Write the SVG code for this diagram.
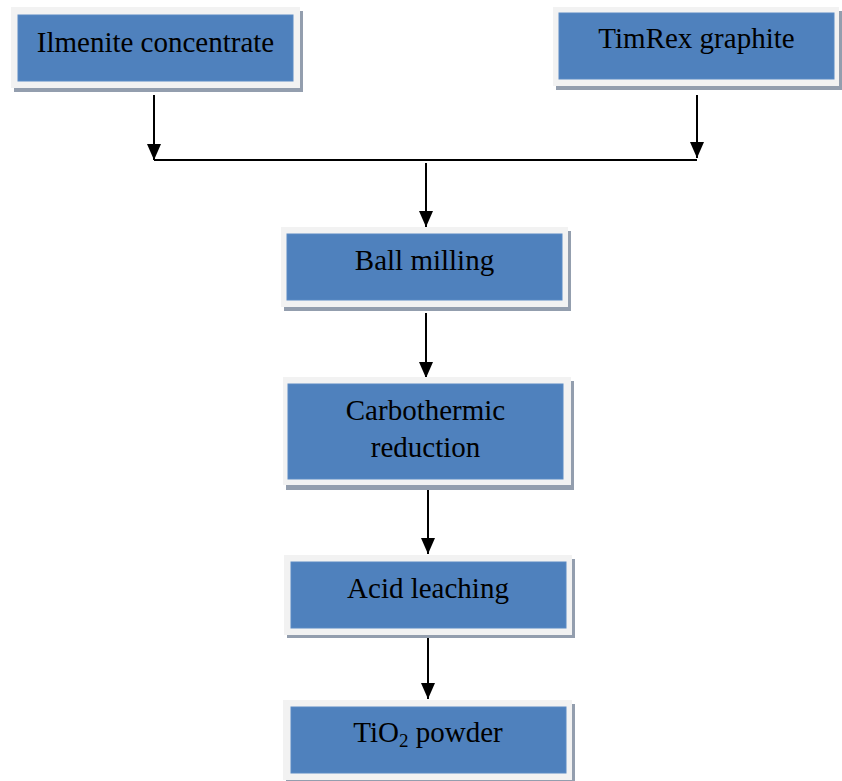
<svg xmlns="http://www.w3.org/2000/svg" width="842" height="781" viewBox="0 0 842 781">
<defs>
<style>
.sh{fill:#939eae}
.fr{fill:#f2f2f2}
.bl{fill:#4f81bd;stroke:#5a8ac4;stroke-width:1}
.t{font-family:"Liberation Serif","Times New Roman",serif;font-size:29px;fill:#000;text-anchor:middle}
.ln{stroke:#000;stroke-width:2;fill:none}
</style>
<marker id="ah" markerUnits="userSpaceOnUse" markerWidth="17" markerHeight="17" viewBox="0 0 17 17" refX="16" refY="8.5" orient="auto">
<path d="M0,1.5 L16,8.5 L0,15.5 Z" fill="#000"/>
</marker>
</defs>
<rect width="842" height="781" fill="#fff"/>
<g id="connectors">
<line class="ln" x1="154" y1="95" x2="154" y2="160" marker-end="url(#ah)"/>
<line class="ln" x1="697" y1="95" x2="697" y2="158" marker-end="url(#ah)"/>
<line class="ln" x1="154" y1="160" x2="697" y2="160"/>
<line class="ln" x1="426" y1="163" x2="426" y2="227" marker-end="url(#ah)"/>
<line class="ln" x1="426" y1="313" x2="426" y2="378" marker-end="url(#ah)"/>
<line class="ln" x1="428" y1="489" x2="428" y2="554" marker-end="url(#ah)"/>
<line class="ln" x1="428" y1="635" x2="428" y2="699" marker-end="url(#ah)"/>
</g>
<g id="ilmenite">
<rect class="sh" x="14" y="11" width="289" height="81"/>
<rect class="fr" x="11" y="7" width="289" height="81"/>
<rect class="bl" x="18" y="15" width="275" height="66"/>
<text class="t" x="155.5" y="52">Ilmenite concentrate</text>
</g>
<g id="timrex">
<rect class="sh" x="556" y="11" width="286" height="79"/>
<rect class="fr" x="553" y="7" width="286" height="79"/>
<rect class="bl" x="559" y="13" width="275" height="66"/>
<text class="t" x="696.5" y="48">TimRex graphite</text>
</g>
<g id="ballmilling">
<rect class="sh" x="284" y="231" width="287" height="80"/>
<rect class="fr" x="281" y="227" width="287" height="80"/>
<rect class="bl" x="287" y="234" width="275" height="66"/>
<text class="t" x="424.5" y="270">Ball milling</text>
</g>
<g id="carbothermic">
<rect class="sh" x="286" y="381" width="288" height="109"/>
<rect class="fr" x="283" y="377" width="288" height="108"/>
<rect class="bl" x="288" y="384" width="275" height="95"/>
<text class="t" x="425.5" y="420">Carbothermic</text>
<text class="t" x="425.5" y="457">reduction</text>
</g>
<g id="acidleaching">
<rect class="sh" x="287" y="559" width="288" height="79"/>
<rect class="fr" x="284" y="555" width="288" height="80"/>
<rect class="bl" x="291" y="562" width="275" height="66"/>
<text class="t" x="428" y="598">Acid leaching</text>
</g>
<g id="tio2">
<rect class="sh" x="286" y="704" width="289" height="80"/>
<rect class="fr" x="283" y="700" width="289" height="80"/>
<rect class="bl" x="291" y="707" width="275" height="66"/>
<text class="t" x="428" y="742">TiO<tspan font-size="19" dy="5">2</tspan><tspan dy="-5"> powder</tspan></text>
</g>
</svg>
